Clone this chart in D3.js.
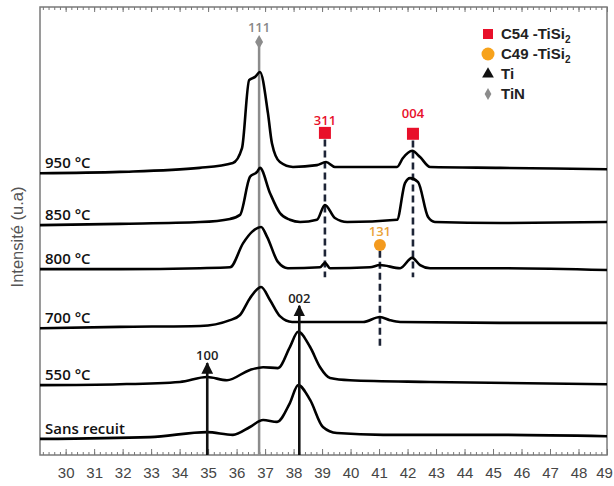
<!DOCTYPE html>
<html lang="fr">
<head>
<meta charset="UTF-8">
<script src="https://d3js.org/d3.v7.min.js"></script>
<style>
  body { margin: 0; background: #fff; }
  .curve { fill: none; stroke: #000; stroke-width: 2.6px; stroke-linejoin: round; }
  .tick text { font-family: "Liberation Sans", Arial, sans-serif; font-size: 15px; fill: #454545; }
  .axis path, .axis line { stroke: #777; }
  .temp { font-family: "Open Sans", sans-serif; font-weight: 600; font-size: 15px; fill: #111; }
  .hkl { font-family: "Open Sans", sans-serif; font-weight: 600; font-size: 13px; }
  .leg { font-family: "Liberation Sans", Arial, sans-serif; font-weight: bold; font-size: 15px; fill: #222; }
</style>
</head>
<body>
<script>
// 2theta (deg) vs intensity (u.a), curves stacked with an offset
const s950 = [[29.1,62.9],[31.9,63.2],[34.7,64.1],[35.87,65.2],[36.19,68.5],[36.44,83.7],[36.65,84.4],[36.82,85.5],
  [37.1,76.3],[37.24,69.6],[37.52,65.4],[37.98,64.3],[38.82,64.7],[39.14,65.4],[39.45,64.3],[41.63,64.3],
  [41.84,66.3],[42.16,67.9],[42.44,66.5],[42.79,64.3],[45.25,64.1],[49,63.8]];
const s850 = [[29.1,51.3],[31.9,51.6],[34.72,52.0],[35.77,52.7],[36.12,53.6],[36.47,62.1],[36.72,63.2],[36.82,64.1],
  [37.17,58.5],[37.52,54.0],[37.87,52.5],[38.23,52.0],[38.82,52.5],[39.1,55.8],[39.45,52.9],[39.88,52.0],
  [41.63,52.5],[41.91,60.7],[42.09,61.8],[42.37,60.9],[42.72,53.1],[42.96,52.0],[45.25,51.8],[49,52.0]];
const s800 = [[29.1,41.5],[31.9,41.5],[34.72,41.7],[35.77,41.9],[36.23,47.3],[36.54,49.8],[36.86,50.9],[37.07,48.7],
  [37.45,43.1],[37.8,41.7],[38.93,41.9],[39.1,42.9],[39.28,41.7],[40.68,41.9],[41.03,42.4],[41.74,41.7],
  [42.16,44.0],[42.44,42.4],[42.79,41.7],[45.25,41.7],[49,41.3]];
const s700 = [[29.1,28.3],[31.9,28.6],[34.72,28.8],[35.77,30.1],[36.12,31.25],[36.47,35.0],[36.86,37.5],[37.17,34.6],
  [37.52,31.0],[37.95,29.7],[40.44,29.7],[41.03,30.8],[41.38,30.1],[41.74,29.7],[45.25,29.5],[49,29.5]];
const s550 = [[29.1,15.6],[31.9,15.8],[34.01,16.3],[34.96,17.4],[35.66,16.7],[36.47,19.0],[36.93,19.6],[37.45,19.4],
  [37.87,24.1],[38.16,27.5],[38.58,24.1],[38.93,19.6],[39.28,17.2],[39.98,16.7],[42.79,16.3],[49,15.8]];
const sRaw = [[29.1,3.6],[32.96,4.0],[34.96,5.1],[35.87,4.5],[36.47,6.25],[36.93,7.8],[37.42,7.4],[37.87,11.6],
  [38.16,15.6],[38.58,12.3],[39.03,6.25],[39.52,4.9],[41.14,4.5],[45.25,4.5],[49,4.2]];

const curveLabels = ["950 °C", "850 °C", "800 °C", "700 °C", "550 °C", "Sans recuit"];
const curveData = [s950, s850, s800, s700, s550, sRaw];

const xTicks = d3.range(30, 50, 1);
const xMinor = d3.range(29.2, 49.01, 0.2).map(v => +v.toFixed(1));

// reflections: [hkl, 2theta, marker level, line bottom]
const c54Peaks = [["311", 39.1, 71.9, 39.7], ["004", 42.19, 71.7, 39.7]];
const c49Peaks = [["131", 41.03, 46.9, 24.1]];
const tiPeaks = [["100", 34.97, 20.5], ["002", 38.2, 33.3]];
const tinPeaks = [["111", 36.79, 92.2]];

const legendNames = ["C54 -TiSi", "C49 -TiSi", "Ti", "TiN"];

const width = 614, height = 486;
const m = {left: 40, right: 7, top: 7, bottom: 31};

const x = d3.scaleLinear().domain([29.1, 49]).range([m.left, width - m.right]);
const y = d3.scaleLinear().domain([0, 100]).range([height - m.bottom, m.top]);

const svg = d3.select('body').append('svg')
  .attr('width', width)
  .attr('height', height);

// frame
svg.append('rect')
  .attr('x', x(29.1)).attr('y', y(100))
  .attr('width', x(49) - x(29.1)).attr('height', y(0) - y(100))
  .attr('fill', 'none').attr('stroke', '#7a7a7a').attr('stroke-width', 1.5);

// axes, ticks pointing inward
const bottom = svg.append('g').attr('class', 'axis')
  .attr('transform', `translate(0,${y(0)})`)
  .call(d3.axisBottom(x).tickValues(xTicks).tickSize(-6).tickPadding(12).tickFormat(d3.format('d')));
bottom.select('.domain').remove();
// last label sits at the window edge, nudge it in
bottom.selectAll('.tick text').filter(d => d === 49).attr('dx', -3);
svg.append('g').attr('class', 'axis')
  .attr('transform', `translate(0,${y(0)})`)
  .call(d3.axisBottom(x).tickValues(xMinor).tickSize(-3).tickFormat(''))
  .select('.domain').remove();
svg.append('g').attr('class', 'axis')
  .attr('transform', `translate(0,${y(100)})`)
  .call(d3.axisTop(x).tickValues(xTicks).tickSize(-5).tickFormat(''))
  .select('.domain').remove();
svg.append('g').attr('class', 'axis')
  .attr('transform', `translate(0,${y(100)})`)
  .call(d3.axisTop(x).tickValues(xMinor).tickSize(-3).tickFormat(''))
  .select('.domain').remove();

svg.append('text')
  .attr('transform', `translate(23,${(y(0) + y(100)) / 2 + 6}) rotate(-90)`)
  .attr('text-anchor', 'middle')
  .style('font-family', '"Liberation Sans", Arial, sans-serif')
  .style('font-size', '16.5px')
  .attr('fill', '#555')
  .text('Intensité (u.a)');

// TiN reference line
tinPeaks.forEach(([hkl, t, top]) => {
  svg.append('line')
    .attr('x1', x(t)).attr('x2', x(t)).attr('y1', y(top)).attr('y2', y(0))
    .attr('stroke', '#8c8c8c').attr('stroke-width', 2.5);
  svg.append('path')
    .attr('d', d3.symbol(d3.symbolDiamond, 55)())
    .attr('transform', `translate(${x(t)},${y(top)})`)
    .attr('fill', '#8c8c8c');
  svg.append('text').attr('class', 'hkl')
    .attr('x', x(t)).attr('y', y(top) - 10)
    .attr('text-anchor', 'middle').attr('fill', '#888')
    .text(hkl);
});

// dashed marker lines
const dash = (t, top, bot) => svg.append('line')
  .attr('x1', x(t)).attr('x2', x(t)).attr('y1', y(top)).attr('y2', y(bot))
  .attr('stroke', '#1d2436').attr('stroke-width', 2.6).attr('stroke-dasharray', '7,4');

c54Peaks.forEach(([hkl, t, lvl, bot]) => dash(t, lvl - 1.5, bot));
c49Peaks.forEach(([hkl, t, lvl, bot]) => dash(t, lvl - 1.3, bot));

// curves
const line = d3.line().curve(d3.curveMonotoneX).x(d => x(d[0])).y(d => y(d[1]));
svg.selectAll('.curve')
  .data(curveData)
  .enter().append('path')
  .attr('class', 'curve')
  .attr('d', line);

svg.selectAll('.temp')
  .data(curveData)
  .enter().append('text')
  .attr('class', 'temp')
  .attr('x', x(29.1) + 5)
  .attr('y', d => y(d[0][1]) - 5)
  .text((d, i) => curveLabels[i]);

// Ti arrows
svg.append('defs').append('marker')
  .attr('id', 'arrow').attr('viewBox', '0 0 10 10')
  .attr('refX', 9).attr('refY', 5)
  .attr('markerWidth', 4.5).attr('markerHeight', 4.5)
  .attr('orient', 'auto')
  .append('path').attr('d', 'M0,0L10,5L0,10Z').attr('fill', '#111');

tiPeaks.forEach(([hkl, t, tip]) => {
  svg.append('line')
    .attr('x1', x(t)).attr('x2', x(t)).attr('y1', y(0)).attr('y2', y(tip))
    .attr('stroke', '#111').attr('stroke-width', 2.6)
    .attr('marker-end', 'url(#arrow)');
  svg.append('text').attr('class', 'hkl')
    .attr('x', x(t)).attr('y', y(tip) - 3)
    .attr('text-anchor', 'middle').attr('fill', '#222')
    .text(hkl);
});

// C54 / C49 markers
c54Peaks.forEach(([hkl, t, lvl]) => {
  svg.append('rect')
    .attr('x', x(t) - 6).attr('y', y(lvl) - 6).attr('width', 12).attr('height', 12)
    .attr('fill', '#e8102a');
  svg.append('text').attr('class', 'hkl')
    .attr('x', x(t)).attr('y', y(lvl) - (hkl === '004' ? 16 : 8))
    .attr('text-anchor', 'middle').attr('fill', '#e8102a')
    .text(hkl);
});
c49Peaks.forEach(([hkl, t, lvl]) => {
  svg.append('circle')
    .attr('cx', x(t)).attr('cy', y(lvl)).attr('r', 6)
    .attr('fill', '#f39a1e');
  svg.append('text').attr('class', 'hkl')
    .attr('x', x(t)).attr('y', y(lvl) - 9)
    .attr('text-anchor', 'middle').attr('fill', '#eaa43a')
    .text(hkl);
});

// legend
const leg = svg.append('g').attr('transform', 'translate(488,34)');
const legSymbols = [
  g => g.append('rect').attr('x', -5).attr('y', -5).attr('width', 10).attr('height', 10).attr('fill', '#e8102a'),
  g => g.append('circle').attr('r', 6.5).attr('fill', '#f7a21b'),
  g => g.append('path').attr('d', d3.symbol(d3.symbolTriangle, 60)()).attr('fill', '#111'),
  g => g.append('path').attr('d', d3.symbol(d3.symbolDiamond, 40)()).attr('fill', '#8c8c8c')
];
legendNames.forEach((name, i) => {
  const g = leg.append('g').attr('transform', `translate(0,${i * 20})`);
  legSymbols[i](g);
  const t = g.append('text').attr('class', 'leg').attr('x', 13).attr('y', 5).text(name);
  if (i < 2) t.append('tspan').attr('dy', 4).style('font-size', '10px').text('2');
});
</script>
</body>
</html>
